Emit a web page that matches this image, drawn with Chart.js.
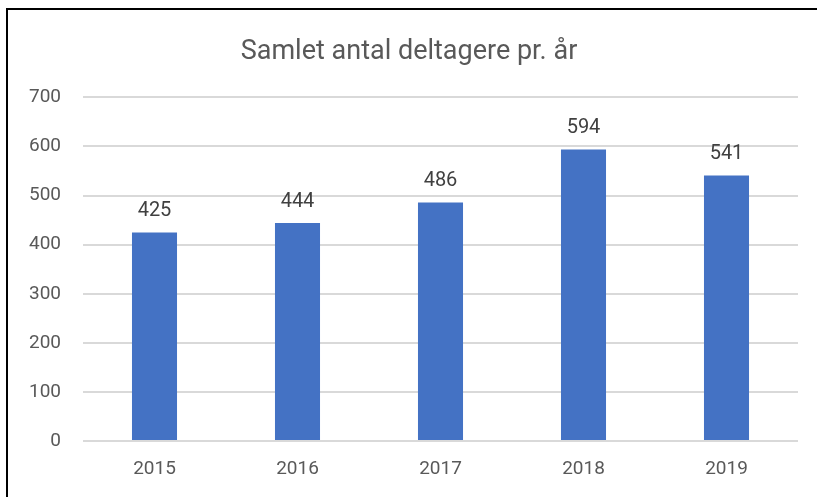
<!DOCTYPE html>
<html>
<head>
<meta charset="utf-8">
<script src="https://cdn.jsdelivr.net/npm/chart.js@4"></script>
<style>
  html, body { margin: 0; padding: 0; background: #fff; overflow: hidden; }
  #frame { position: absolute; left: 6px; top: 8px; width: 900px; height: 600px; border: 2px solid #000; box-sizing: border-box; }
  #wrap { position: absolute; left: 0; top: 0; width: 817px; height: 497px; }
</style>
</head>
<body>
<div id="frame"></div>
<div id="wrap"><canvas id="c"></canvas></div>
<script>
// data
const years = ['2015', '2016', '2017', '2018', '2019'];
const participants = [425, 444, 486, 594, 541];
const chartTitle = 'Samlet antal deltagere pr. år';

const FONT = "Roboto, 'Open Sans', sans-serif";

// value labels above bars
const valueLabels = {
  id: 'valueLabels',
  afterDatasetsDraw(chart) {
    const { ctx } = chart;
    const meta = chart.getDatasetMeta(0);
    ctx.save();
    ctx.font = `20px ${FONT}`;
    ctx.fillStyle = '#404040';
    ctx.textAlign = 'center';
    ctx.textBaseline = 'alphabetic';
    meta.data.forEach((bar, i) => {
      ctx.fillText(participants[i], bar.x, bar.y - 16);
    });
    ctx.restore();
  }
};

new Chart(document.getElementById('c'), {
  type: 'bar',
  data: {
    labels: years,
    datasets: [{
      data: participants,
      backgroundColor: '#4472C4',
      borderWidth: 0,
      barPercentage: 0.63,
      categoryPercentage: 0.5
    }]
  },
  options: {
    responsive: true,
    maintainAspectRatio: false,
    animation: false,
    layout: { padding: { left: 20, right: 19, top: 0, bottom: 0 } },
    plugins: {
      legend: { display: false },
      tooltip: { enabled: false },
      title: {
        display: true,
        text: chartTitle,
        color: '#595959',
        font: { family: FONT, size: 27, weight: 'normal' },
        padding: { top: 36, bottom: 29 }
      }
    },
    scales: {
      x: {
        grid: { display: false, drawTicks: false },
        border: { display: false },
        ticks: { color: '#595959', font: { family: FONT, size: 19, lineHeight: 1.05 }, padding: 18 }
      },
      y: {
        min: 0, max: 700,
        afterFit(s) { s.width = 63; },
        grid: { color: '#D9D9D9', lineWidth: 2, drawTicks: false },
        border: { display: false },
        ticks: { stepSize: 100, color: '#595959', font: { family: FONT, size: 19 }, padding: 22 }
      }
    }
  },
  plugins: [valueLabels]
});
</script>
</body>
</html>
